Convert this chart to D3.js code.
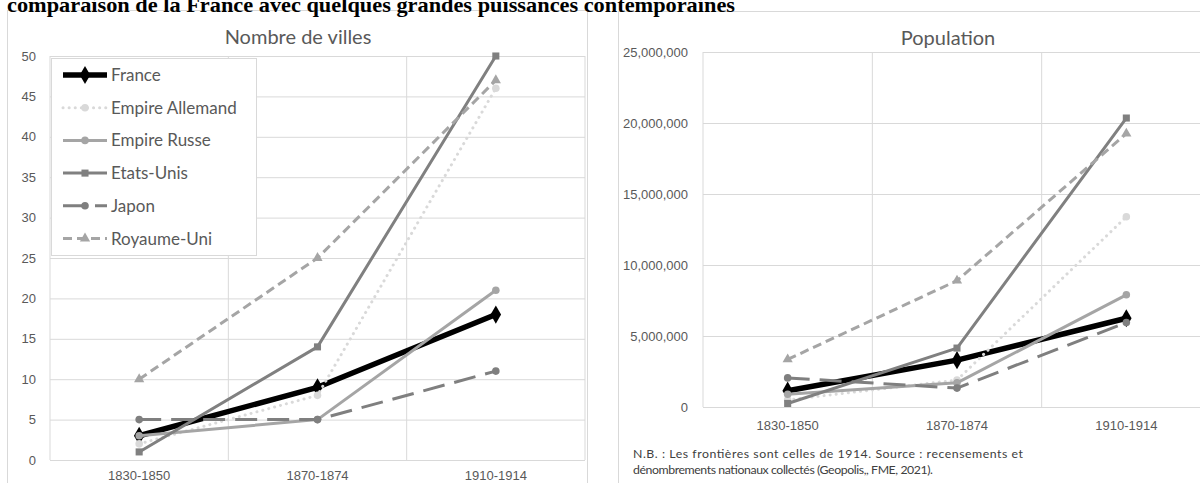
<!DOCTYPE html>
<html>
<head>
<meta charset="utf-8">
<script src="https://cdn.jsdelivr.net/npm/d3@7"></script>
<style>
  body { margin: 0; background: #fff; overflow: hidden; }
  svg { display: block; font-family: Lato, "Open Sans", sans-serif; }
</style>
</head>
<body>
<svg id="chart" width="1200" height="483"></svg>
<script>
const categories = ['1830-1850', '1870-1874', '1910-1914'];
const seriesNames = ['France', 'Empire Allemand', 'Empire Russe', 'Etats-Unis', 'Japon', 'Royaume-Uni'];

// Nombre de villes
const villesFrance = [3, 9, 18];
const villesAllemand = [2, 8, 46];
const villesRusse = [3, 5, 21];
const villesEtatsUnis = [1, 14, 50];
const villesJapon = [5, 5, 11];
const villesRoyaumeUni = [10, 25, 47];
const villesTicks = [0, 5, 10, 15, 20, 25, 30, 35, 40, 45, 50];

// Population
const popFrance = [1150000, 3300000, 6250000];
const popAllemand = [500000, 1900000, 13400000];
const popRusse = [900000, 1700000, 7900000];
const popEtatsUnis = [250000, 4150000, 20350000];
const popJapon = [2050000, 1330000, 5950000];
const popRoyaumeUni = [3350000, 8900000, 19250000];
const popTicks = [0, 5000000, 10000000, 15000000, 20000000, 25000000];

const styles = [
    { color: '#000000', width: 5.5, dash: null, symbol: d3.symbolDiamond, size: 95 },
    { color: '#d9d9d9', width: 3, dash: '0.1 6', cap: 'round', symbol: d3.symbolCircle, size: 45 },
    { color: '#a5a5a5', width: 3, dash: null, symbol: d3.symbolCircle, size: 45 },
    { color: '#808080', width: 3, dash: null, symbol: d3.symbolSquare, size: 50 },
    { color: '#7f7f7f', width: 3, dash: '22 10', symbol: d3.symbolCircle, size: 45 },
    { color: '#a5a5a5', width: 3, dash: '9 5', symbol: d3.symbolTriangle, size: 45 },
];

const svg = d3.select('#chart');

function drawPanel(p) {
    const x = d3.scaleBand().domain(categories).range([p.left, p.right]);
    const y = d3.scaleLinear().domain([0, p.max]).range([p.bottom, p.top]);
    const g = svg.append('g');

    // frame of the chart
    g.append('rect')
        .attr('x', p.frame[0] + 0.5)
        .attr('y', p.frame[1] + 0.5)
        .attr('width', p.frame[2])
        .attr('height', p.frame[3])
        .attr('fill', '#fff')
        .attr('stroke', '#d9d9d9');

    // y axis + horizontal grid
    const yAxis = g.append('g')
        .attr('transform', `translate(${p.left},0)`)
        .call(d3.axisLeft(y).tickValues(p.ticks).tickSize(-(p.right - p.left))
            .tickPadding(p.yPad).tickFormat(p.format));
    yAxis.select('.domain').remove();
    yAxis.selectAll('line').attr('stroke', '#d9d9d9');
    yAxis.selectAll('text').attr('fill', '#595959').attr('font-size', 13);

    // vertical grid at the category edges
    const edges = categories.map(c => x(c)).concat([p.right]);
    g.selectAll('.vgrid')
        .data(edges)
        .join('line')
        .attr('x1', d => d).attr('x2', d => d)
        .attr('y1', p.top).attr('y2', p.bottom)
        .attr('stroke', '#d9d9d9');

    // x axis labels
    const xAxis = g.append('g')
        .attr('transform', `translate(0,${p.bottom})`)
        .call(d3.axisBottom(x).tickSize(0).tickPadding(p.xPad));
    xAxis.select('.domain').remove();
    xAxis.selectAll('text').attr('fill', '#595959').attr('font-size', 13);

    g.append('text')
        .attr('x', p.titleX)
        .attr('y', p.titleY)
        .attr('text-anchor', 'middle')
        .attr('fill', '#595959')
        .attr('font-size', 20)
        .text(p.title);

    // series
    p.values.forEach((vals, i) => {
        const s = styles[i];
        const pts = vals.map((v, j) => [x(categories[j]) + x.bandwidth() / 2, y(v)]);
        g.append('path')
            .datum(pts)
            .attr('fill', 'none')
            .attr('stroke', s.color)
            .attr('stroke-width', s.width)
            .attr('stroke-dasharray', s.dash)
            .attr('stroke-linecap', s.cap || 'butt')
            .attr('stroke-linejoin', 'round')
            .attr('d', d3.line());
        g.selectAll(null)
            .data(pts)
            .join('path')
            .attr('transform', d => `translate(${d[0]},${d[1]})`)
            .attr('d', d3.symbol(s.symbol, s.size))
            .attr('fill', s.color);
    });
    return g;
}

const left = drawPanel({
    frame: [7, 10, 580, 500],
    left: 50, right: 585, top: 56, bottom: 460,
    max: 50, ticks: villesTicks, format: d3.format('d'),
    yPad: 14, xPad: 11,
    title: 'Nombre de villes', titleX: 298, titleY: 44,
    values: [villesFrance, villesAllemand, villesRusse, villesEtatsUnis, villesJapon, villesRoyaumeUni],
});

drawPanel({
    frame: [618, 11, 700, 500],
    left: 703, right: 1211, top: 52, bottom: 407,
    max: 25000000, ticks: popTicks, format: d3.format(','),
    yPad: 15, xPad: 14,
    title: 'Population', titleX: 948, titleY: 45,
    values: [popFrance, popAllemand, popRusse, popEtatsUnis, popJapon, popRoyaumeUni],
});

// page heading, clipped at the top like the source
svg.append('text')
    .attr('x', 7)
    .attr('y', 12)
    .attr('font-family', '"Liberation Serif", "Times New Roman", serif')
    .attr('font-weight', 'bold')
    .attr('font-size', 21)
    .attr('textLength', 728)
    .attr('lengthAdjust', 'spacingAndGlyphs')
    .text('comparaison de la France avec quelques grandes puissances contemporaines');

// legend inside the left chart
const legend = left.append('g');
legend.append('rect')
    .attr('x', 51.5).attr('y', 58.5)
    .attr('width', 205).attr('height', 197)
    .attr('fill', '#fff')
    .attr('stroke', '#d9d9d9');

seriesNames.forEach((name, i) => {
    const s = styles[i];
    const cy = 75 + i * 32.7;
    legend.append('line')
        .attr('x1', 63).attr('x2', 107)
        .attr('y1', cy).attr('y2', cy)
        .attr('stroke', s.color)
        .attr('stroke-width', s.width)
        .attr('stroke-dasharray', s.dash)
        .attr('stroke-linecap', s.cap || 'butt');
    legend.append('path')
        .attr('transform', `translate(85,${cy})`)
        .attr('d', d3.symbol(s.symbol, s.size))
        .attr('fill', s.color);
    legend.append('text')
        .attr('x', 111)
        .attr('y', cy + 6)
        .attr('fill', '#595959')
        .attr('font-size', 17)
        .text(name);
});

// note under the population chart
const note = svg.append('text')
    .attr('fill', '#404040')
    .attr('font-size', 12.3);
note.append('tspan').attr('x', 633).attr('y', 458)
    .attr('textLength', 390).attr('lengthAdjust', 'spacing')
    .text('N.B. : Les frontières sont celles de 1914.  Source : recensements et');
note.append('tspan').attr('x', 633).attr('y', 474)
    .attr('textLength', 300).attr('lengthAdjust', 'spacing')
    .text('dénombrements nationaux collectés (Geopolis,, FME, 2021).');
</script>
</body>
</html>
